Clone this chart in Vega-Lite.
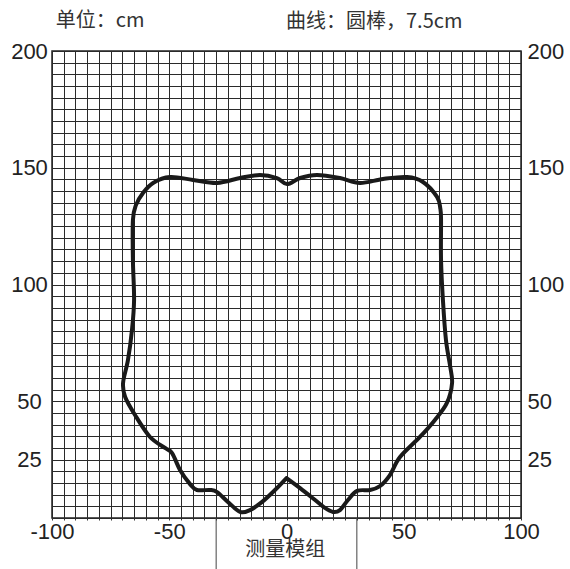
{
  "$schema": "https://vega.github.io/schema/vega-lite/v6.json",
  "width": 469,
  "height": 467,
  "autosize": {"type": "none"},
  "padding": {"left": 52, "top": 51, "right": 49, "bottom": 51},
  "background": "white",
  "config": {
    "view": {"stroke": "#222", "strokeWidth": 1.5},
    "axis": {"labelFont": "Liberation Sans", "labelFontSize": 22, "labelColor": "#222", "labelOverlap": false, "labelFlush": false}
  },
  "datasets": {
    "curve": [
      {"i": 1, "x": 0, "y": 17.1},
      {"i": 2, "x": 5.8, "y": 12.8},
      {"i": 3, "x": 12.2, "y": 7.7},
      {"i": 4, "x": 16.4, "y": 4.3},
      {"i": 5, "x": 19.8, "y": 2.6},
      {"i": 6, "x": 22.8, "y": 3.4},
      {"i": 7, "x": 26.2, "y": 7.7},
      {"i": 8, "x": 30.1, "y": 11.6},
      {"i": 9, "x": 35.6, "y": 12.0},
      {"i": 10, "x": 39.9, "y": 13.7},
      {"i": 11, "x": 44.1, "y": 18.4},
      {"i": 12, "x": 48.4, "y": 26.1},
      {"i": 13, "x": 56.9, "y": 34.7},
      {"i": 14, "x": 63.3, "y": 42.0},
      {"i": 15, "x": 68.4, "y": 49.3},
      {"i": 16, "x": 70.6, "y": 57.8},
      {"i": 17, "x": 69.7, "y": 65.5},
      {"i": 18, "x": 68.0, "y": 76.2},
      {"i": 19, "x": 66.7, "y": 93.4},
      {"i": 20, "x": 65.9, "y": 110.5},
      {"i": 21, "x": 65.9, "y": 127.6},
      {"i": 22, "x": 65.6, "y": 132.5},
      {"i": 23, "x": 64.2, "y": 137.5},
      {"i": 24, "x": 58.2, "y": 143.9},
      {"i": 25, "x": 51.4, "y": 146.0},
      {"i": 26, "x": 41.2, "y": 145.2},
      {"i": 27, "x": 31.3, "y": 143.5},
      {"i": 28, "x": 22.8, "y": 145.6},
      {"i": 29, "x": 13.0, "y": 146.9},
      {"i": 30, "x": 5.8, "y": 145.6},
      {"i": 31, "x": 0.2, "y": 143.0},
      {"i": 32, "x": -4.1, "y": 145.6},
      {"i": 33, "x": -11.3, "y": 146.9},
      {"i": 34, "x": -19.8, "y": 145.6},
      {"i": 35, "x": -29.6, "y": 143.5},
      {"i": 36, "x": -39.9, "y": 144.8},
      {"i": 37, "x": -49.7, "y": 146.0},
      {"i": 38, "x": -56.9, "y": 143.5},
      {"i": 39, "x": -61.2, "y": 139.2},
      {"i": 40, "x": -64.2, "y": 134.0},
      {"i": 41, "x": -65.5, "y": 127.6},
      {"i": 42, "x": -65.5, "y": 110.5},
      {"i": 43, "x": -65.0, "y": 93.4},
      {"i": 44, "x": -65.9, "y": 80.5},
      {"i": 45, "x": -67.6, "y": 67.7},
      {"i": 46, "x": -69.7, "y": 57.8},
      {"i": 47, "x": -68.8, "y": 51.8},
      {"i": 48, "x": -64.6, "y": 44.1},
      {"i": 49, "x": -58.2, "y": 34.7},
      {"i": 50, "x": -51.8, "y": 30.0},
      {"i": 51, "x": -48.8, "y": 27.8},
      {"i": 52, "x": -45.4, "y": 20.6},
      {"i": 53, "x": -41.2, "y": 14.6},
      {"i": 54, "x": -38.2, "y": 12.0},
      {"i": 55, "x": -32.6, "y": 12.0},
      {"i": 56, "x": -29.6, "y": 11.1},
      {"i": 57, "x": -25.0, "y": 6.9},
      {"i": 58, "x": -19.8, "y": 2.6},
      {"i": 59, "x": -15.6, "y": 3.4},
      {"i": 60, "x": -10.4, "y": 6.9},
      {"i": 61, "x": -4.9, "y": 12.0},
      {"i": 62, "x": 0, "y": 17.1}
    ],
    "box": [
      {"x": -30, "y": 0, "y2": -22},
      {"x": 30, "y": 0, "y2": -22}
    ],
    "notes": [
      {"label": "单位：cm", "x": -79.5, "y": 213},
      {"label": "曲线：圆棒，7.5cm", "x": 37.4, "y": 212.4},
      {"label": "测量模组", "x": -0.5, "y": -13.5}
    ]
  },
  "resolve": {"axis": {"x": "independent", "y": "independent"}},
  "layer": [
    {
      "data": {"name": "curve"},
      "mark": {"type": "line", "color": "#1a1a1a", "strokeWidth": 4, "interpolate": "cardinal", "strokeJoin": "round", "strokeCap": "round"},
      "encoding": {
        "order": {"field": "i", "type": "quantitative"},
        "x": {
          "field": "x", "type": "quantitative",
          "scale": {"domain": [-100, 100], "nice": false, "zero": false},
          "axis": {
            "orient": "bottom", "title": null, "domain": false, "ticks": true, "tickSize": 2, "tickColor": "#333",
            "grid": true, "gridColor": "#2a2a2a", "gridWidth": 1, "gridOpacity": 1,
            "values": [-100,-95,-90,-85,-80,-75,-70,-65,-60,-55,-50,-45,-40,-35,-30,-25,-20,-15,-10,-5,0,5,10,15,20,25,30,35,40,45,50,55,60,65,70,75,80,85,90,95,100],
            "labelExpr": "datum.value % 50 == 0 ? ('' + datum.value) : ''",
            "labelPadding": 1
          }
        },
        "y": {
          "field": "y", "type": "quantitative",
          "scale": {"domain": [0, 200], "nice": false, "zero": false},
          "axis": {
            "orient": "left", "title": null, "domain": false, "ticks": false,
            "grid": true, "gridColor": "#2a2a2a", "gridWidth": 1, "gridOpacity": 1,
            "values": [0,5,10,15,20,25,30,35,40,45,50,55,60,65,70,75,80,85,90,95,100,105,110,115,120,125,130,135,140,145,150,155,160,165,170,175,180,185,190,195,200],
            "labelExpr": "indexof([25,50,100,150,200], datum.value) >= 0 ? datum.label : ''",
            "labelAlign": "center", "labelPadding": 23
          }
        }
      }
    },
    {
      "data": {"name": "box"},
      "mark": {"type": "rule", "color": "#444", "strokeWidth": 1},
      "encoding": {
        "x": {"field": "x", "type": "quantitative", "axis": null},
        "y": {
          "field": "y", "type": "quantitative",
          "axis": {
            "orient": "right", "title": null, "domain": false, "ticks": false, "grid": false,
            "values": [25, 50, 100, 150, 200],
            "labelAlign": "left", "labelPadding": 6
          }
        },
        "y2": {"field": "y2"}
      }
    },
    {
      "data": {"name": "notes"},
      "mark": {"type": "text", "font": "Noto Sans CJK SC", "fontSize": 20, "color": "#333", "align": "center", "baseline": "middle"},
      "encoding": {
        "x": {"field": "x", "type": "quantitative", "axis": null},
        "y": {"field": "y", "type": "quantitative", "axis": null},
        "text": {"field": "label"}
      }
    }
  ]
}
